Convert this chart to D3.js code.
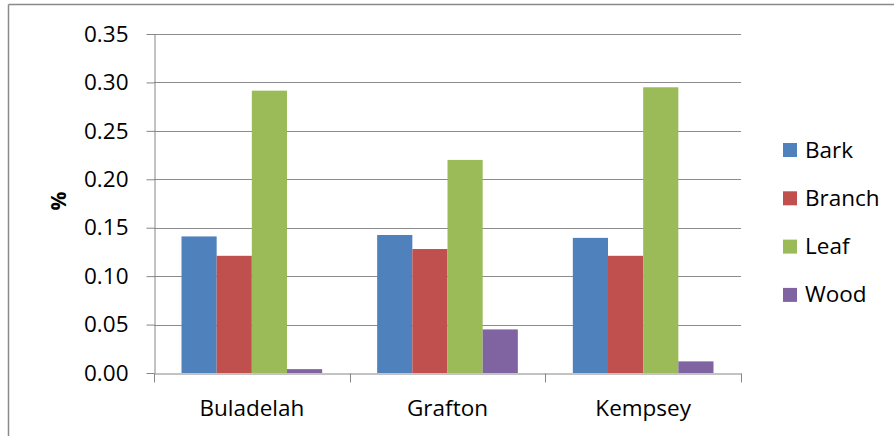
<!DOCTYPE html>
<html>
<head>
<meta charset="utf-8">
<script src="https://cdn.jsdelivr.net/npm/d3@7/dist/d3.min.js"></script>
<style>
  html, body { margin: 0; padding: 0; background: #fff; }
  svg { display: block; }
  text { font-family: "Open Sans", "Liberation Sans", sans-serif; fill: #000; }
</style>
</head>
<body>
<svg id="chart" width="894" height="436"></svg>
<script>
const categories = ["Buladelah", "Grafton", "Kempsey"];
const seriesNames = ["Bark", "Branch", "Leaf", "Wood"];
const seriesColors = ["#4F81BD", "#C0504D", "#9BBB59", "#8064A2"];
const bark   = [0.141, 0.1425, 0.1395];
const branch = [0.121, 0.128, 0.121];
const leaf   = [0.2915, 0.220, 0.295];
const wood   = [0.004, 0.045, 0.012];
const yTicks = [0, 0.05, 0.10, 0.15, 0.20, 0.25, 0.30, 0.35];
const yLabel = "%";

const seriesValues = [bark, branch, leaf, wood];

(function () {
const svg = d3.select("#chart");
const W = 894, H = 436;

// outer frame (top and left edges visible)
svg.append("line").attr("x1", 8.5).attr("x2", W).attr("y1", 4.5).attr("y2", 4.5)
  .attr("stroke", "#8a8a8a").attr("stroke-width", 1.5);
svg.append("line").attr("x1", 8.5).attr("x2", 8.5).attr("y1", 4.5).attr("y2", H)
  .attr("stroke", "#8a8a8a").attr("stroke-width", 1.5);

const pLeft = 154, pRight = 741, pTop = 34, pBottom = 373;

const x0 = d3.scaleBand().domain(categories).range([pLeft, pRight]).paddingInner(0).paddingOuter(0);
const groupPad = 27.5;
const x1 = d3.scaleBand().domain(seriesNames)
  .range([groupPad, x0.bandwidth() - groupPad]).padding(0);
const y = d3.scaleLinear().domain([0, 0.35]).range([pBottom, pTop]);

// gridlines
svg.append("g").selectAll("line").data(yTicks.filter(d => d > 0)).join("line")
  .attr("x1", pLeft).attr("x2", pRight)
  .attr("y1", d => Math.round(y(d)) + 0.5).attr("y2", d => Math.round(y(d)) + 0.5)
  .attr("stroke", "#8c8c8c").attr("stroke-width", 1);

// bars
const groups = svg.append("g").selectAll("g").data(categories).join("g")
  .attr("transform", c => `translate(${x0(c)},0)`);
groups.selectAll("rect")
  .data((c, i) => seriesNames.map((s, j) => ({ s, v: seriesValues[j][i], color: seriesColors[j] })))
  .join("rect")
  .attr("x", d => x1(d.s))
  .attr("width", x1.bandwidth())
  .attr("y", d => y(d.v))
  .attr("height", d => y(0) - y(d.v))
  .attr("fill", d => d.color);

// y axis
const yAxis = d3.axisLeft(y).tickValues(yTicks).tickFormat(d3.format(".2f"))
  .tickSize(8).tickSizeOuter(0);
const yg = svg.append("g").attr("transform", `translate(${pLeft + 0.5},0)`).call(yAxis);
yg.select(".domain").attr("stroke", "#868686");
yg.selectAll(".tick line").attr("stroke", "#868686");
yg.selectAll(".tick text").attr("x", -26).attr("font-size", "22.5px")
  .attr("font-family", "'Open Sans', sans-serif").attr("fill", "#000");

// x axis
const xAxis = d3.axisBottom(x0).tickSize(0).tickSizeOuter(0);
const xg = svg.append("g").attr("transform", `translate(0,${pBottom + 0.5})`).call(xAxis);
xg.select(".domain").attr("stroke", "#868686");
xg.selectAll(".tick text").attr("dy", 0).attr("y", 42).attr("font-size", "22.5px")
  .attr("font-family", "'Open Sans', sans-serif").attr("fill", "#000");
// category boundary ticks
const bounds = categories.map(c => x0(c)).concat([x0(categories[categories.length - 1]) + x0.bandwidth()]);
xg.selectAll("line.bound").data(bounds).join("line").attr("class", "bound")
  .attr("x1", d => Math.round(d) + 0.5).attr("x2", d => Math.round(d) + 0.5)
  .attr("y1", 0).attr("y2", 9).attr("stroke", "#868686");

// y label
svg.append("text")
  .attr("transform", `translate(66,201) rotate(-90)`)
  .attr("text-anchor", "middle")
  .attr("font-size", "21px").attr("font-weight", "bold")
  .text(yLabel);

// legend
const legend = svg.append("g").attr("transform", "translate(783,143)");
const li = legend.selectAll("g").data(seriesNames).join("g")
  .attr("transform", (d, i) => `translate(0,${i * 48.3})`);
li.append("rect").attr("width", 14).attr("height", 14).attr("fill", (d, i) => seriesColors[i]);
li.append("text").attr("x", 22).attr("y", 14.5).attr("font-size", "22.5px").text(d => d);
})();
</script>
</body>
</html>
